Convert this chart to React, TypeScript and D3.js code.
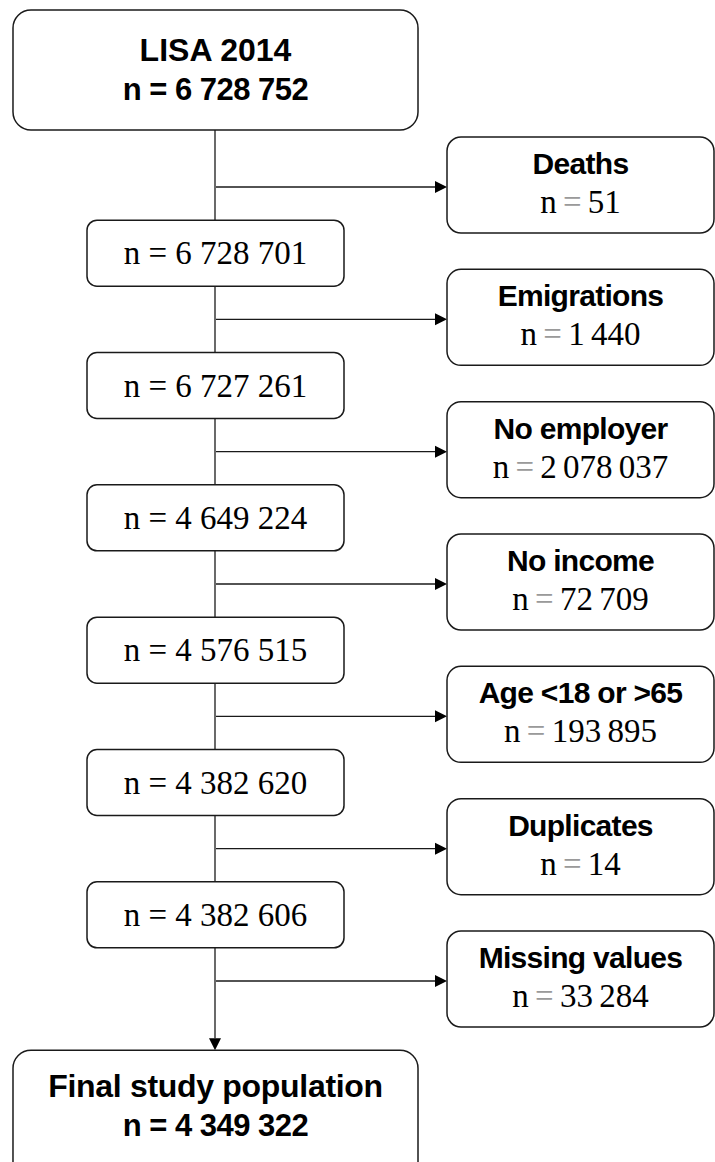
import * as d3 from 'd3';

// cohort flow: start, remaining after each exclusion, final
const startLabel = 'LISA 2014';
const startN = 6728752;
const remainingN = [6728701, 6727261, 4649224, 4576515, 4382620, 4382606];
const exclusionLabels = [
  'Deaths',
  'Emigrations',
  'No employer',
  'No income',
  'Age <18 or >65',
  'Duplicates',
  'Missing values',
];
const exclusionN = [51, 1440, 2078037, 72709, 193895, 14, 33284];
const finalLabel = 'Final study population';
const finalN = 4349322;

const W = 715;
const H = 1162;

const fmt = (v: number) => d3.format(',')(v).replace(/,/g, ' ');

const SANS = '"Liberation Sans", Arial, sans-serif';
const SERIF = '"Liberation Serif", "Times New Roman", serif';

export default function App() {
  // rows alternate: exclusion arrow, remaining box, exclusion arrow, ...
  const nRows = exclusionN.length + remainingN.length;
  const yRow = d3.scaleLinear().domain([0, nRows - 1]).range([187, 981]);

  const spineX = 215;
  const mainBox = { x: 87, w: 257, h: 66, r: 10 };
  const bigBox = { x: 13, w: 405, h: 120, r: 18 };
  const sideBox = { x: 447, w: 267, h: 96, r: 14 };

  const startTop = 10;
  const finalTop = yRow(nRows) + 3;
  const arrowLen = 12;
  const arrowHalf = 6;

  const stroke = '#1a1a1a';

  return (
    <div style={{ position: 'absolute', left: 0, top: 0 }}>
      <svg width={W} height={H} style={{ display: 'block', background: '#fff' }}>
        {/* spine */}
        <line
          x1={spineX}
          x2={spineX}
          y1={startTop + bigBox.h}
          y2={finalTop - arrowLen}
          stroke={stroke}
          strokeWidth={1.3}
        />
        <path
          d={`M${spineX},${finalTop} L${spineX - arrowHalf},${finalTop - arrowLen} L${spineX + arrowHalf},${finalTop - arrowLen} Z`}
          fill="#000"
        />

        {/* start box */}
        <rect
          x={bigBox.x}
          y={startTop}
          width={bigBox.w}
          height={bigBox.h}
          rx={bigBox.r}
          fill="#fff"
          stroke={stroke}
          strokeWidth={1.5}
        />
        <text
          x={bigBox.x + bigBox.w / 2}
          y={startTop + 51}
          textAnchor="middle"
          fontFamily={SANS}
          fontWeight="bold"
          fontSize={32}
        >
          {startLabel}
        </text>
        <text
          x={bigBox.x + bigBox.w / 2}
          y={startTop + 90}
          textAnchor="middle"
          fontFamily={SANS}
          fontWeight="bold"
          fontSize={31}
          letterSpacing={-0.5}
        >
          {`n = ${fmt(startN)}`}
        </text>

        {/* exclusions */}
        {exclusionN.map((v, i) => {
          const ay = yRow(i * 2);
          const top = ay - 2 - sideBox.h / 2;
          const cx = sideBox.x + sideBox.w / 2;
          return (
            <g key={`ex-${i}`}>
              <line
                x1={spineX + 1}
                x2={sideBox.x - arrowLen}
                y1={ay}
                y2={ay}
                stroke={stroke}
                strokeWidth={1.3}
              />
              <path
                d={`M${sideBox.x},${ay} L${sideBox.x - arrowLen},${ay - arrowHalf} L${sideBox.x - arrowLen},${ay + arrowHalf} Z`}
                fill="#000"
              />
              <rect
                x={sideBox.x}
                y={top}
                width={sideBox.w}
                height={sideBox.h}
                rx={sideBox.r}
                fill="#fff"
                stroke={stroke}
                strokeWidth={1.5}
              />
              <text
                x={cx}
                y={top + 37}
                textAnchor="middle"
                fontFamily={SANS}
                fontWeight="bold"
                fontSize={30}
                letterSpacing={-0.7}
              >
                {exclusionLabels[i]}
              </text>
              <text
                x={cx}
                y={top + 76}
                textAnchor="middle"
                fontFamily={SERIF}
                fontSize={33}
                wordSpacing={-2}
              >
                <tspan>n</tspan>
                <tspan fill="#9a9a9a"> = </tspan>
                <tspan>{fmt(v)}</tspan>
              </text>
            </g>
          );
        })}

        {/* remaining population boxes */}
        {remainingN.map((v, i) => {
          const cy = yRow(i * 2 + 1);
          return (
            <g key={`rem-${i}`}>
              <rect
                x={mainBox.x}
                y={cy - mainBox.h / 2}
                width={mainBox.w}
                height={mainBox.h}
                rx={mainBox.r}
                fill="#fff"
                stroke={stroke}
                strokeWidth={1.5}
              />
              <text
                x={mainBox.x + mainBox.w / 2}
                y={cy + 11}
                textAnchor="middle"
                fontFamily={SERIF}
                fontSize={33}
              >
                {`n = ${fmt(v)}`}
              </text>
            </g>
          );
        })}

        {/* final box, runs past the bottom edge */}
        <rect
          x={bigBox.x}
          y={finalTop}
          width={bigBox.w}
          height={bigBox.h + 10}
          rx={bigBox.r}
          fill="#fff"
          stroke={stroke}
          strokeWidth={1.5}
        />
        <text
          x={bigBox.x + bigBox.w / 2}
          y={finalTop + 47}
          textAnchor="middle"
          fontFamily={SANS}
          fontWeight="bold"
          fontSize={32}
          letterSpacing={-0.3}
        >
          {finalLabel}
        </text>
        <text
          x={bigBox.x + bigBox.w / 2}
          y={finalTop + 86}
          textAnchor="middle"
          fontFamily={SANS}
          fontWeight="bold"
          fontSize={31}
          letterSpacing={-0.5}
        >
          {`n = ${fmt(finalN)}`}
        </text>
      </svg>
    </div>
  );
}
